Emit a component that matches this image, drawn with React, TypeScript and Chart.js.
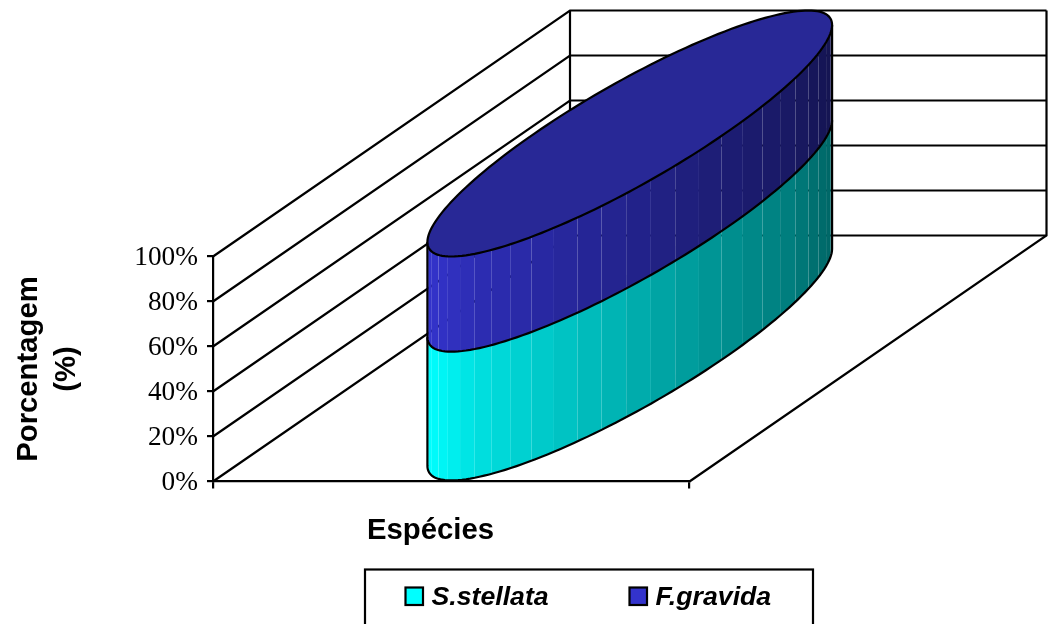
import React, { useEffect, useRef } from "react";
import { Chart, registerables } from "chart.js";

Chart.register(...registerables);

const categories = [""];
const seriesNames = ["S.stellata", "F.gravida"];
const stellataValues = [57.7];
const fgravidaValues = [42.3];
const yTicks = [0, 20, 40, 60, 80, 100];
const xTitle = "Espécies";
const yTitle = ["Porcentagem", "(%)"];

// Base colours of each stacked drum, and the drum's lid
const seriesColors: number[][] = [
  [0, 255, 255],
  [51, 51, 204],
];
const lidColor = "#282896";

// Oblique projection of the 3D box: where the depth axis points on screen
const DEPTH_X = 357;
const DEPTH_Y = -246;
const FACET_DEG = 7;
const LINE = 2.2;
const SANS = "'Liberation Sans', Arial, sans-serif";
const SERIF = "'Liberation Serif', 'Times New Roman', serif";

// Lighting falloff across the width of the drum
const shadeStops: number[][] = [
  [0, 1],
  [0.116, 0.88],
  [0.43, 0.72],
  [0.73, 0.57],
  [0.9, 0.49],
  [1, 0.4],
];

function shade(f: number) {
  for (let i = 1; i < shadeStops.length; i++) {
    const [a, va] = shadeStops[i - 1];
    const [b, vb] = shadeStops[i];
    if (f <= b) return va + ((vb - va) * (f - a)) / (b - a);
  }
  return shadeStops[shadeStops.length - 1][1];
}

const box3d = {
  id: "box3d",
  beforeDatasetsDraw(chart: any) {
    const { ctx, chartArea: a, scales } = chart;
    const y = scales.y;
    ctx.save();
    ctx.strokeStyle = "#000";
    ctx.lineWidth = LINE;
    for (const v of yTicks) {
      const py = y.getPixelForValue(v);
      ctx.beginPath();
      ctx.moveTo(a.left, py);
      ctx.lineTo(a.left + DEPTH_X, py + DEPTH_Y);
      ctx.lineTo(a.right + DEPTH_X, py + DEPTH_Y);
      ctx.stroke();
    }
    const top = y.getPixelForValue(100) + DEPTH_Y;
    const bottom = y.getPixelForValue(0) + DEPTH_Y;
    ctx.beginPath();
    ctx.moveTo(a.left + DEPTH_X, top);
    ctx.lineTo(a.left + DEPTH_X, bottom);
    ctx.moveTo(a.right + DEPTH_X, top);
    ctx.lineTo(a.right + DEPTH_X, bottom);
    ctx.lineTo(a.right, a.bottom);
    ctx.stroke();
    ctx.restore();
  },
  afterDatasetsDraw(chart: any) {
    const { ctx } = chart;
    ctx.save();
    ctx.lineWidth = LINE;
    ctx.strokeStyle = "#000";
    const step = (FACET_DEG * Math.PI) / 180;
    let lid: any = null;
    chart.data.datasets.forEach((_: any, i: number) => {
      const el = chart.getDatasetMeta(i).data[0];
      const hw = el.width / 2;
      const rx = DEPTH_X / 2;
      const ry = DEPTH_Y / 2;
      const cx = el.x + rx;
      const radius = Math.hypot(hw, rx);
      const t0 = Math.atan2(rx, hw);
      const at = (phi: number, level: number) => {
        const t = t0 + phi;
        return [cx + hw * Math.cos(t) + rx * Math.sin(t), level + ry + ry * Math.sin(t)];
      };
      // Faceted wall, swept from the right silhouette through the front to the left one
      const start = Math.PI;
      const end = 2 * Math.PI;
      for (let p1 = end; p1 > start + 1e-6; p1 -= step) {
        const p0 = Math.max(p1 - step, start);
        const mid = cx + radius * Math.cos((p0 + p1) / 2);
        const m = shade((mid - (cx - radius)) / (2 * radius));
        const c = seriesColors[i].map((v) => Math.round(v * m));
        const a0 = at(p0, el.base);
        const a1 = at(p1, el.base);
        const b1 = at(p1, el.y);
        const b0 = at(p0, el.y);
        ctx.fillStyle = `rgb(${c[0]},${c[1]},${c[2]})`;
        ctx.beginPath();
        ctx.moveTo(a0[0], a0[1]);
        ctx.lineTo(a1[0], a1[1]);
        ctx.lineTo(b1[0], b1[1]);
        ctx.lineTo(b0[0], b0[1]);
        ctx.closePath();
        ctx.fill();
      }
      // Outline of the wall
      ctx.beginPath();
      let p = at(start, el.y);
      ctx.moveTo(p[0], p[1]);
      for (let k = 0; k <= 90; k++) {
        p = at(start + (k / 90) * Math.PI, el.base);
        ctx.lineTo(p[0], p[1]);
      }
      p = at(end, el.y);
      ctx.lineTo(p[0], p[1]);
      ctx.stroke();
      lid = { at, el };
    });
    // Lid of the top drum
    if (lid) {
      ctx.beginPath();
      for (let k = 0; k < 180; k++) {
        const p = lid.at((k / 180) * 2 * Math.PI, lid.el.y);
        if (k === 0) ctx.moveTo(p[0], p[1]);
        else ctx.lineTo(p[0], p[1]);
      }
      ctx.closePath();
      ctx.fillStyle = lidColor;
      ctx.fill();
      ctx.stroke();
    }
    ctx.restore();
  },
  afterDraw(chart: any) {
    const { ctx } = chart;
    ctx.save();
    ctx.fillStyle = "#000";
    ctx.textBaseline = "alphabetic";
    ctx.textAlign = "center";
    ctx.font = `bold 29.3px ${SANS}`;
    ctx.fillText(xTitle, 430.5, 539);

    // Legend frame runs off the bottom of the page
    ctx.strokeStyle = "#000";
    ctx.lineWidth = LINE;
    ctx.strokeRect(365, 569.5, 448, 80);
    ctx.textAlign = "left";
    ctx.font = `italic bold 26.7px ${SANS}`;
    const swatchX = [405.5, 629.5];
    seriesNames.forEach((name, i) => {
      const c = seriesColors[i];
      ctx.fillStyle = `rgb(${c[0]},${c[1]},${c[2]})`;
      ctx.fillRect(swatchX[i], 587.5, 17.5, 17.5);
      ctx.strokeRect(swatchX[i], 587.5, 17.5, 17.5);
      ctx.fillStyle = "#000";
      ctx.fillText(name, swatchX[i] + 26, 605);
    });
    ctx.restore();
  },
};

export default function App() {
  const ref = useRef<HTMLCanvasElement>(null);
  useEffect(() => {
    document.body.style.margin = "0";
    const chart = new Chart(ref.current!, {
      type: "bar",
      data: {
        labels: categories,
        datasets: [
          { label: seriesNames[0], data: stellataValues, backgroundColor: "transparent" },
          { label: seriesNames[1], data: fgravidaValues, backgroundColor: "transparent" },
        ],
      },
      options: {
        responsive: false,
        animation: false,
        layout: { padding: { left: 0, top: 256.5, right: 362.5, bottom: 0 } },
        datasets: { bar: { barPercentage: 0.4, categoryPercentage: 1 } },
        plugins: { legend: { display: false }, tooltip: { enabled: false } },
        scales: {
          x: {
            stacked: true,
            afterFit(s: any) {
              s.height = 142.5;
            },
            ticks: { display: false },
            grid: { drawOnChartArea: false, color: "#000", lineWidth: LINE, tickLength: 7 },
            border: { color: "#000", width: LINE },
          },
          y: {
            stacked: true,
            min: 0,
            max: 100,
            afterFit(s: any) {
              s.width = 213;
            },
            ticks: {
              stepSize: 20,
              color: "#000",
              padding: 9,
              labelOffset: 1,
              font: { family: SERIF, size: 27.3 },
              callback: (v: any) => `${v}%`,
            },
            grid: { drawOnChartArea: false, color: "#000", lineWidth: LINE, tickLength: 6 },
            border: { color: "#000", width: LINE },
            title: {
              display: true,
              text: yTitle,
              color: "#000",
              padding: { top: 10, bottom: 0 },
              font: { family: SANS, size: 29.3, weight: "bold", lineHeight: 1.3 },
            },
          },
        },
      },
      plugins: [box3d],
    } as any);
    return () => chart.destroy();
  }, []);
  return (
    <div style={{ width: 1052, height: 624, background: "#fff", overflow: "hidden" }}>
      <canvas ref={ref} width={1052} height={624} style={{ display: "block" }} />
    </div>
  );
}
